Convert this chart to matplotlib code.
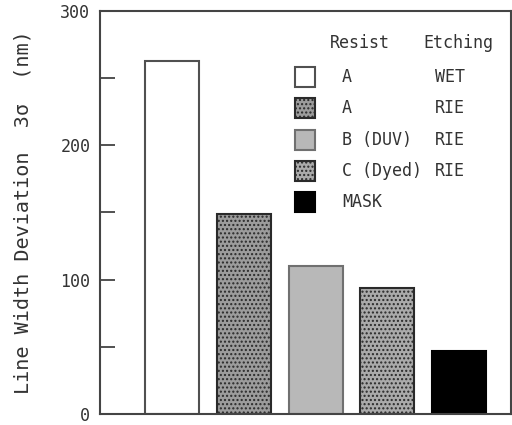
import matplotlib.pyplot as plt
import matplotlib as mpl

# ---- DATA ----
resists = ["A", "A", "B (DUV)", "C (Dyed)", "MASK"]
etchings = ["WET", "RIE", "RIE", "RIE", ""]
deviation_nm = [263, 149, 110, 94, 47]

# ---- STYLE ----
faces = ["white", "#9c9c9c", "#b8b8b8", "#aaaaaa", "black"]
edges = ["#505050", "#2a2a2a", "#707070", "#2a2a2a", "black"]
hatches = [None, "....", None, "....", None]

mpl.rcParams["font.family"] = ["DejaVu Sans Mono"]
mpl.rcParams["hatch.linewidth"] = 1.0

W, H = 512, 425
fig = plt.figure(figsize=(W / 100, H / 100), dpi=100)
ax = fig.add_axes([100 / W, (H - 414) / H, 411 / W, 403 / H])

x = list(range(len(deviation_nm)))
bars = ax.bar(x, deviation_nm, width=0.75, color=faces, edgecolor=edges,
              linewidth=1.5)
for b, h in zip(bars, hatches):
    if h:
        b.set_hatch(h)

ax.set_xlim(-1.0, 4.72)
ax.set_ylim(0, 300)
ax.set_xticks([])
ax.set_yticks(range(0, 301, 50))
ax.set_yticklabels(["0", "", "100", "", "200", "", "300"])
ax.tick_params(axis="y", direction="in", length=11, width=1.2,
               labelsize=12, pad=7, colors="#333333")
for s in ax.spines.values():
    s.set_linewidth(1.5)
    s.set_color("#444444")

ax.set_ylabel("Line Width Deviation  3\u03c3  (nm)", fontsize=14.5,
              color="#333333", labelpad=20)

# ---- legend drawn as text table (pixel positions) ----
def px(xp, yp):
    return xp / W, 1 - yp / H

fig.text(*px(330, 43), "Resist", fontsize=12, color="#333333", va="center")
fig.text(*px(423, 43), "Etching", fontsize=12, color="#333333", va="center")

row_y = [77, 108, 140, 171, 202]
for i in range(len(resists)):
    x0, y0 = px(295, row_y[i] + 10)
    fig.add_artist(plt.Rectangle((x0, y0), 20 / W, 20 / H,
                                 transform=fig.transFigure, facecolor=faces[i],
                                 edgecolor=edges[i], linewidth=1.5,
                                 hatch=hatches[i]))
    fig.text(*px(342, row_y[i]), resists[i], fontsize=12, color="#333333",
             va="center")
    if etchings[i]:
        fig.text(*px(435, row_y[i]), etchings[i], fontsize=12,
                 color="#333333", va="center")

fig.savefig("out.png", dpi=100)
